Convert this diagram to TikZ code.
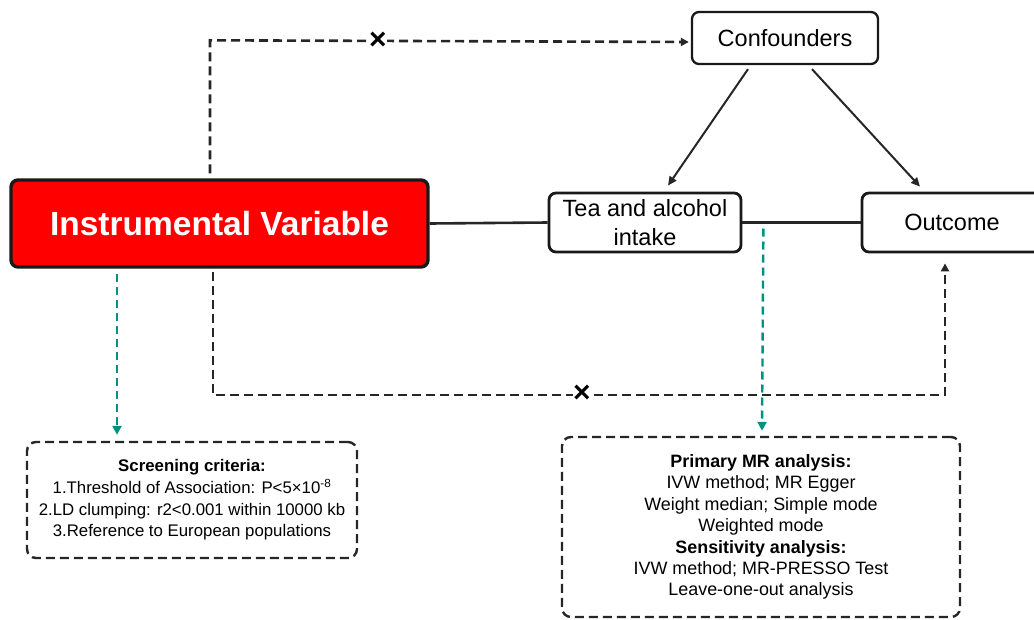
\documentclass[tikz,border=0pt]{standalone}
\usepackage{fontspec}
\setmainfont{Liberation Sans}
\usetikzlibrary{arrows.meta,calc}
\definecolor{ivred}{RGB}{255,0,0}
\definecolor{tealc}{RGB}{0,145,128}
\tikzset{
  box/.style={draw=black!90,line width=2.8pt,rounded corners=7pt,fill=white,inner sep=2pt,align=center},
  dbox/.style={draw=black!85,line width=2.4pt,dash pattern=on 9pt off 5pt,rounded corners=9pt,inner sep=0pt,align=center},
  solidline/.style={line width=2.6pt,black!85},
  arr/.style={line width=2pt,black!85,-{Triangle[length=9pt,width=8pt]}},
  dasharr/.style={line width=2.6pt,black!85,dash pattern=on 9pt off 5pt,-{Triangle[length=8pt,width=8pt]}},
  tealarr/.style={line width=2.4pt,tealc,dash pattern=on 8pt off 5pt,-{Triangle[length=9pt,width=9pt]}},
  xmark/.style={fill=white,inner sep=0.5pt,font=\fontsize{30}{30}\selectfont\bfseries}
}
\begin{document}
\begin{tikzpicture}[x=1pt,y=-1pt]
\useasboundingbox (0,0) rectangle (1034,619);
\clip (0,0) rectangle (1034,619);
% main nodes
\node[box,fill=ivred,line width=3.4pt,minimum width=417pt,minimum height=87pt,text=white,font=\fontsize{33.5}{36}\selectfont\bfseries] (iv) at (219.5,223.5) {Instrumental Variable};
\node[box,minimum width=192pt,minimum height=59pt,font=\fontsize{23.5}{29}\selectfont] (tea) at (645,222.5) {Tea and alcohol\\intake};
\node[box,minimum width=180pt,minimum height=59pt,font=\fontsize{23.5}{26}\selectfont] (out) at (952,222.5) {Outcome};
\node[box,line width=2.3pt,minimum width=186pt,minimum height=52pt,font=\fontsize{23.5}{26}\selectfont] (conf) at (785,38) {Confounders};
% lower boxes
\node[dbox,minimum width=330pt,minimum height=116pt,font=\fontsize{16.8}{21.7}\selectfont] (scr) at (192,500)
 {\textbf{Screening criteria:}\\1.Threshold of Association: P<5×10\textsuperscript{-8}\\2.LD clumping: r2<0.001 within 10000 kb\\3.Reference to European populations};
\node[dbox,minimum width=398pt,minimum height=180pt,font=\fontsize{17.9}{21.4}\selectfont] (mr) at (761,527)
 {\textbf{Primary MR analysis:}\\IVW method; MR Egger\\Weight median; Simple mode\\Weighted mode\\\textbf{Sensitivity analysis:}\\IVW method; MR-PRESSO Test\\Leave-one-out analysis};
% solid connections
\draw[solidline] (iv.east) -- (tea.west);
\draw[solidline] (tea.east) -- (out.west);
% confounder arrows
\draw[arr] ($(conf.south)+(-37,4)$) -- ($(tea.north)+(23,-6)$);
\draw[arr] ($(conf.south)+(27,4)$) -- ($(out.north)+(-32,-5)$);
% dashed top path
\coordinate (t0) at ($(iv.north)+(-9.5,-5)$);
\coordinate (t1) at ($(iv.north)+(-9.5,-138)$);
\draw[dasharr] (t0) -- (t1) -- ($(conf.west)+(-2,4)$);
\node[xmark] (x1) at (378,41) {×};
% dashed bottom path
\coordinate (b0) at ($(iv.south)+(-6.5,3)$);
\coordinate (b1) at (213,395);
\coordinate (b2) at (945,395);
\draw[dasharr] (b0) -- (b1) -- (b2) -- ($(out.south)+(-7,10)$);
\node[xmark] (x2) at (582,394) {×};
% teal arrows
\draw[tealarr] ($(iv.south)+(-102.5,5)$) -- ($(scr.north)+(-75,-6)$);
\draw[tealarr] ($(tea.east)+(21,6)$) -- ($(mr.north)+(1,-5)$);
\end{tikzpicture}
\end{document}
